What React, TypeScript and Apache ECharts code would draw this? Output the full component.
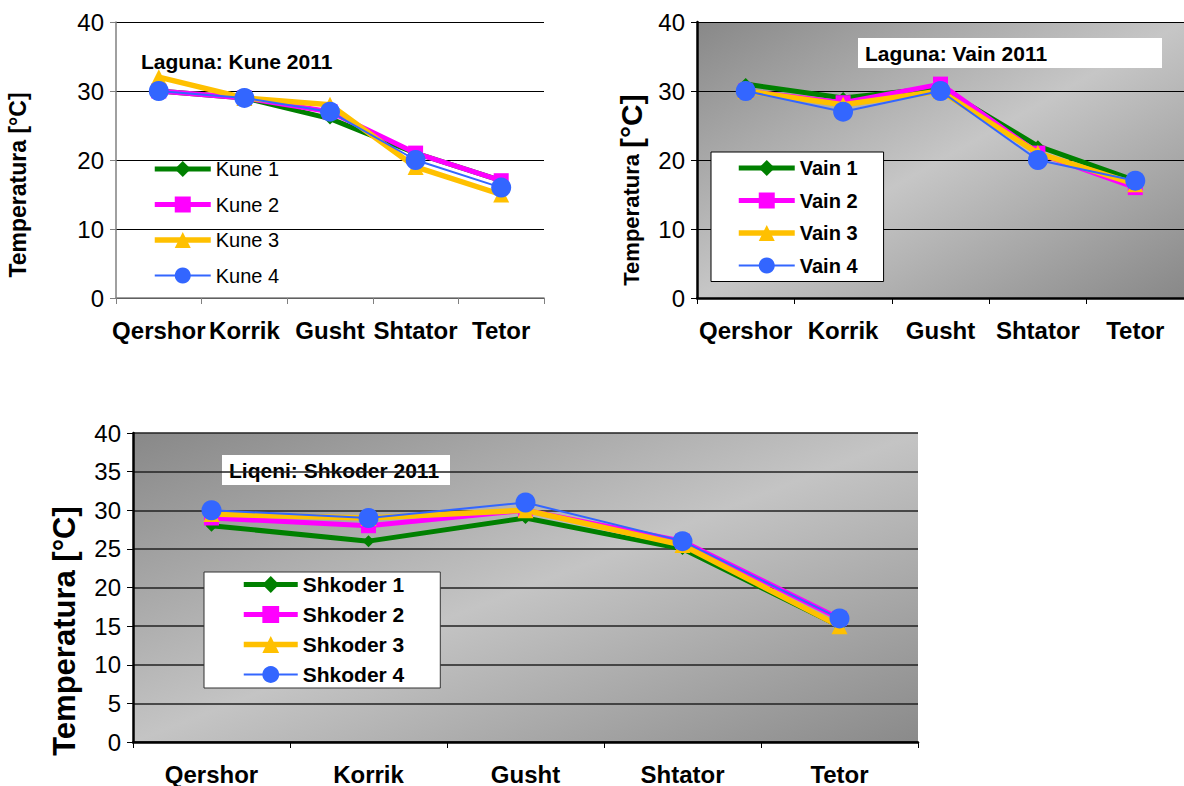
import React, { useEffect, useRef } from "react";
import * as echarts from "echarts";

const months = ["Qershor", "Korrik", "Gusht", "Shtator", "Tetor"];

const kuneNames = ["Kune 1", "Kune 2", "Kune 3", "Kune 4"];
const kune1 = [30, 29, 26, 21, 17];
const kune2 = [30, 29, 27, 21, 17];
const kune3 = [32, 29, 28, 19, 15];
const kune4 = [30, 29, 27, 20, 16];

const vainNames = ["Vain 1", "Vain 2", "Vain 3", "Vain 4"];
const vain1 = [31, 29, 30.5, 22, 17];
const vain2 = [30, 28.3, 31, 21, 16];
const vain3 = [30, 28, 30, 21, 16.5];
const vain4 = [30, 27, 30, 20, 17];

const shkNames = ["Shkoder 1", "Shkoder 2", "Shkoder 3", "Shkoder 4"];
const shk1 = [28, 26, 29, 25, 15];
const shk2 = [29, 28, 30, 26, 16];
const shk3 = [29.5, 29, 30, 25.5, 15];
const shk4 = [30, 29, 31, 26, 16];

const yTicks10 = [0, 10, 20, 30, 40];
const yTicks5 = [0, 5, 10, 15, 20, 25, 30, 35, 40];

const FONT = "'Liberation Sans', Arial, sans-serif";

const styles = [
  { color: "#008000", width: 5, symbol: "diamond", size: 12 },
  { color: "#FF00FF", width: 5, symbol: "rect", size: 15 },
  { color: "#FFC000", width: 5.5, symbol: "triangle", size: 16 },
  { color: "#3366FF", width: 2, symbol: "circle", size: 20 },
];

function mkSeries(names: string[], datas: number[][], gi: number) {
  return names.map((n, i) => ({
    type: "line",
    name: n,
    xAxisIndex: gi,
    yAxisIndex: gi,
    data: datas[i],
    symbol: styles[i].symbol,
    symbolSize: styles[i].size,
    lineStyle: { color: styles[i].color, width: styles[i].width },
    itemStyle: { color: styles[i].color },
    z: 2 + i,
  }));
}

function legendData(names: string[]) {
  return names.map((n, i) => ({
    name: n,
    lineStyle: { color: styles[i].color, width: styles[i].width },
  }));
}

function mkX(gi: number, axisColor: string, axisWidth: number) {
  return {
    type: "category",
    gridIndex: gi,
    data: months,
    boundaryGap: true,
    axisLine: { show: true, lineStyle: { color: axisColor, width: axisWidth } },
    axisTick: { show: true, interval: 0, length: 6, lineStyle: { color: axisColor, width: 1 } },
    axisLabel: {
      interval: 0,
      hideOverlap: false,
      fontFamily: FONT,
      fontWeight: "bold",
      fontSize: 24,
      color: "#000",
      margin: 20,
    },
    splitLine: { show: false },
  };
}

function mkY(gi: number, ticks: number[], axisColor: string, axisWidth: number, gridColor: string, gridWidth: number) {
  return {
    type: "value",
    gridIndex: gi,
    min: ticks[0],
    max: ticks[ticks.length - 1],
    interval: ticks[1] - ticks[0],
    axisLine: { show: true, lineStyle: { color: axisColor, width: axisWidth } },
    axisTick: { show: true, length: 6, lineStyle: { color: axisColor, width: 1 } },
    axisLabel: { fontFamily: FONT, fontSize: 24, color: "#000", margin: 12 },
    splitLine: { show: true, lineStyle: { color: gridColor, width: gridWidth } },
  };
}

export default function App() {
  const ref = useRef<HTMLDivElement>(null);
  useEffect(() => {
    if (!ref.current) return;
    const chart = echarts.init(ref.current, undefined, { renderer: "svg" });
    const grad2 = new echarts.graphic.LinearGradient(0, 0, 1, 1, [
      { offset: 0, color: "#888888" },
      { offset: 0.5, color: "#c6c6c6" },
      { offset: 1, color: "#888888" },
    ]);
    const grad3 = new echarts.graphic.LinearGradient(0, 0, 1, 1, [
      { offset: 0, color: "#888888" },
      { offset: 0.5, color: "#c4c4c4" },
      { offset: 1, color: "#8a8a8a" },
    ]);
    const option: any = {
      animation: false,
      backgroundColor: "#fff",
      textStyle: { fontFamily: FONT },
      grid: [
        { left: 116, top: 22, width: 428, height: 276 },
        { left: 697, top: 22, width: 489, height: 276, show: true, backgroundColor: grad2, borderWidth: 0 },
        { left: 133, top: 433, width: 785, height: 309, show: true, backgroundColor: grad3, borderWidth: 0 },
      ],
      xAxis: [mkX(0, "#808080", 1.5), mkX(1, "#000", 2.5), mkX(2, "#000", 2.5)],
      yAxis: [
        mkY(0, yTicks10, "#808080", 1.5, "#000", 1),
        mkY(1, yTicks10, "#000", 2.5, "#000", 1),
        mkY(2, yTicks5, "#000", 2.5, "#222", 1.5),
      ],
      legend: [
        {
          data: legendData(kuneNames),
          orient: "vertical",
          left: 152,
          top: 159,
          padding: 0,
          itemWidth: 56,
          itemHeight: 20,
          itemGap: 15.5,
          textStyle: { fontFamily: FONT, fontSize: 20, lineHeight: 20, color: "#000" },
        },
        {
          data: legendData(vainNames),
          orient: "vertical",
          left: 711,
          top: 152,
          padding: [6, 26, 6, 25],
          backgroundColor: "#fff",
          borderColor: "#000",
          borderWidth: 1,
          itemWidth: 56,
          itemHeight: 20,
          itemGap: 12.5,
          textStyle: { fontFamily: FONT, fontSize: 20, fontWeight: "bold", lineHeight: 20, color: "#000" },
        },
        {
          data: legendData(shkNames),
          orient: "vertical",
          left: 204,
          top: 572,
          padding: [2, 36, 3, 37],
          backgroundColor: "#fff",
          borderColor: "#333",
          borderWidth: 1,
          itemWidth: 54,
          itemHeight: 21,
          itemGap: 9,
          textStyle: { fontFamily: FONT, fontSize: 21, fontWeight: "bold", lineHeight: 21, color: "#000" },
        },
      ],
      graphic: [
        {
          type: "text",
          x: 141,
          y: 61,
          style: { text: "Laguna: Kune 2011", fontFamily: FONT, fontSize: 21, fontWeight: "bold", fill: "#000", textVerticalAlign: "middle" },
        },
        { type: "rect", shape: { x: 858, y: 38, width: 304, height: 30 }, style: { fill: "#fff" } },
        {
          type: "text",
          x: 865,
          y: 53,
          style: { text: "Laguna: Vain 2011", fontFamily: FONT, fontSize: 21, fontWeight: "bold", fill: "#000", textVerticalAlign: "middle" },
        },
        { type: "rect", shape: { x: 222, y: 455, width: 228, height: 30 }, style: { fill: "#fff" } },
        {
          type: "text",
          x: 229,
          y: 470,
          style: { text: "Liqeni: Shkoder 2011", fontFamily: FONT, fontSize: 21, fontWeight: "bold", fill: "#000", textVerticalAlign: "middle" },
        },
        {
          type: "text",
          x: 18,
          y: 185,
          rotation: Math.PI / 2,
          style: { text: "Temperatura [°C]", fontFamily: FONT, fontSize: 23, fontWeight: "bold", fill: "#000", textAlign: "center", textVerticalAlign: "middle" },
        },
        {
          type: "text",
          x: 631,
          y: 190,
          rotation: Math.PI / 2,
          style: {
            text: "{a|Temperatura} {b|[°C]}",
            rich: {
              a: { fontFamily: FONT, fontSize: 22, fontWeight: "bold", fill: "#000" },
              b: { fontFamily: FONT, fontSize: 30, fontWeight: "bold", fill: "#000" },
            },
            fontFamily: FONT,
            fontSize: 22,
            fontWeight: "bold",
            fill: "#000",
            textAlign: "center",
            textVerticalAlign: "middle",
          },
        },
        {
          type: "text",
          x: 64,
          y: 631,
          rotation: Math.PI / 2,
          style: { text: "Temperatura [°C]", fontFamily: FONT, fontSize: 31, fontWeight: "bold", fill: "#000", textAlign: "center", textVerticalAlign: "middle" },
        },
      ],
      series: [
        ...mkSeries(kuneNames, [kune1, kune2, kune3, kune4], 0),
        ...mkSeries(vainNames, [vain1, vain2, vain3, vain4], 1),
        ...mkSeries(shkNames, [shk1, shk2, shk3, shk4], 2),
      ],
    };
    chart.setOption(option);
    return () => chart.dispose();
  }, []);
  return (
    <div
      ref={ref}
      style={{ position: "absolute", left: 0, top: 0, width: 1184, height: 786 }}
    />
  );
}
